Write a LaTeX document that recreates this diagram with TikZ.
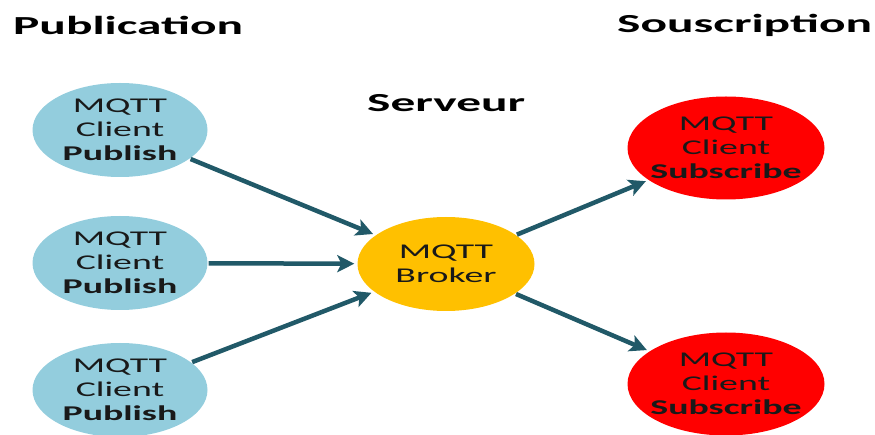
\documentclass[tikz,border=0pt]{standalone}
\usepackage{fontspec}
\setmainfont{Carlito}[FakeStretch=1.8]
\newfontfamily\titlefont{Carlito}[FakeStretch=1.9]
\usetikzlibrary{shapes.geometric,arrows.meta}
\definecolor{pubblue}{HTML}{93CDDD}
\definecolor{brokery}{HTML}{FFC000}
\definecolor{subred}{HTML}{FF0000}
\definecolor{arrowc}{HTML}{215968}
\begin{document}
\begin{tikzpicture}[x=1pt,y=-1pt,
  title/.style={anchor=base west,inner sep=0pt,font=\titlefont\fontsize{26}{30}\selectfont\bfseries},
  txt/.style={inner sep=0pt,align=center,font=\fontsize{21}{24}\selectfont,text=black!90},
  ell/.style={ellipse,inner sep=0pt},
  pub/.style={ell,fill=pubblue,minimum width=175pt,minimum height=94pt},
  brk/.style={ell,fill=brokery,minimum width=177pt,minimum height=94pt},
  sub/.style={ell,fill=subred,minimum width=197pt,minimum height=103pt},
  conn/.style={draw=arrowc,line width=4.5pt,-{Stealth[length=17pt,width=17pt,inset=4pt]},shorten >=3pt,shorten <=1pt}]
\useasboundingbox (0,0) rectangle (875,435);
\node[title] (tpub) at (13,35) {Publication};
\node[title] (tsrv) at (367,112) {Serveur};
\node[title] (tsub) at (617,33) {Souscription};
\node[pub,label={[txt]center:MQTT\\Client\\\textbf{Publish}}] (p1) at (120,130) {};
\node[pub,label={[txt]center:MQTT\\Client\\\textbf{Publish}}] (p2) at (120,263) {};
\node[pub,label={[txt]center:MQTT\\Client\\\textbf{Publish}}] (p3) at (120,390) {};
\node[brk,label={[txt]center:MQTT\\Broker}] (b) at (446,264) {};
\node[sub,label={[txt]center:MQTT\\Client\\\textbf{Subscribe}}] (s1) at (726,148) {};
\node[sub,label={[txt]center:MQTT\\Client\\\textbf{Subscribe}}] (s2) at (726,384) {};
\draw[conn] (p1) -- (b);
\draw[conn] (p2) -- (b);
\draw[conn] (p3) -- (b);
\draw[conn] (b) -- (s1);
\draw[conn] (b) -- (s2);
\end{tikzpicture}
\end{document}
